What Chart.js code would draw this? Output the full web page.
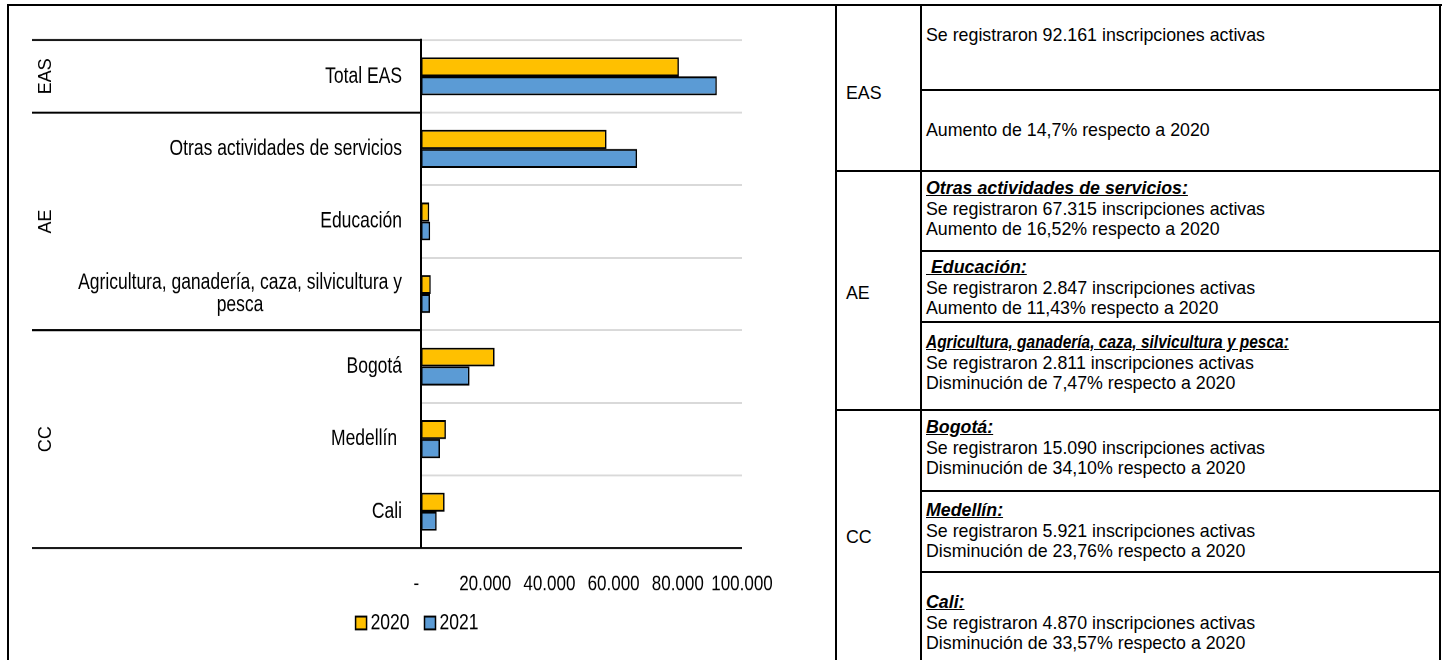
<!DOCTYPE html>
<html lang="es">
<head>
<meta charset="utf-8">
<title>Inscripciones activas 2020 - 2021</title>
<script src="https://cdn.jsdelivr.net/npm/chart.js@4.4.1/dist/chart.umd.min.js"></script>
<style>
html, body { margin: 0; padding: 0; background: #fff; }
body { width: 1444px; height: 660px; overflow: hidden; position: relative; font-family: "Liberation Sans", Arial, sans-serif; color: #000; }
.h { position: absolute; height: 2px; background: #000; z-index: 2; }
.v { position: absolute; width: 2px; background: #000; z-index: 2; top: 4px; bottom: 0; }
.t { position: absolute; left: 926px; font-size: 17.8px; line-height: 20.5px; white-space: nowrap; }
.t b { font-style: italic; text-decoration: underline; }
.t b.nar { display: inline-block; transform: scaleX(0.87); transform-origin: 0 50%; }
.g { position: absolute; left: 846px; font-size: 17.8px; line-height: 20px; }
/* the original chart picture is stretched vertically */
#stretch { position: absolute; left: 10px; top: 6px; width: 825px; height: 512px; transform: scaleY(1.28); transform-origin: 0 0; }
</style>
</head>
<body>

<div id="stretch"><canvas id="graph"></canvas></div>

<!-- table frame -->
<div class="h" style="left:7px;width:1435px;top:4px"></div>
<div class="v" style="left:7px"></div>
<div class="v" style="left:835px"></div>
<div class="v" style="left:920px"></div>
<div class="v" style="left:1439px"></div>
<div class="h" style="left:920px;width:521px;top:89px"></div>
<div class="h" style="left:835px;width:606px;top:170px"></div>
<div class="h" style="left:920px;width:521px;top:250px"></div>
<div class="h" style="left:920px;width:521px;top:321px"></div>
<div class="h" style="left:835px;width:606px;top:409px"></div>
<div class="h" style="left:920px;width:521px;top:490px"></div>
<div class="h" style="left:920px;width:521px;top:571px"></div>

<div class="g" style="top:83px">EAS</div>
<div class="g" style="top:283px">AE</div>
<div class="g" style="top:527px">CC</div>

<div class="t" style="top:25px">Se registraron 92.161 inscripciones activas</div>
<div class="t" style="top:120px">Aumento de 14,7% respecto a 2020</div>
<div class="t" style="top:178px"><b>Otras actividades de servicios:</b><br>Se registraron 67.315 inscripciones activas<br>Aumento de 16,52% respecto a 2020</div>
<div class="t" style="top:257px"><b>&nbsp;Educación:</b><br>Se registraron 2.847 inscripciones activas<br>Aumento de 11,43% respecto a 2020</div>
<div class="t" style="top:332px"><b class="nar">Agricultura, ganadería, caza, silvicultura y pesca:</b><br>Se registraron 2.811 inscripciones activas<br>Disminución de 7,47% respecto a 2020</div>
<div class="t" style="top:417px"><b>Bogotá:</b><br>Se registraron 15.090 inscripciones activas<br>Disminución de 34,10% respecto a 2020</div>
<div class="t" style="top:500px"><b>Medellín:</b><br>Se registraron 5.921 inscripciones activas<br>Disminución de 23,76% respecto a 2020</div>
<div class="t" style="top:592px"><b>Cali:</b><br>Se registraron 4.870 inscripciones activas<br>Disminución de 33,57% respecto a 2020</div>

<script>
var categories = ['Total EAS', 'Otras actividades de servicios', 'Educación',
    ['Agricultura, ganadería, caza, silvicultura y', 'pesca'], 'Bogotá', 'Medellín ', 'Cali']
var groups = ['EAS', 'AE', 'CC']
var groupSizes = [1, 3, 3]
var seriesNames = ['2020', '2021']
var values2020 = [80349, 57771, 2555, 3038, 22898, 7766, 7331]
var values2021 = [92161, 67315, 2847, 2811, 15090, 5921, 4870]
var xTicks = [0, 20000, 40000, 60000, 80000, 100000]
var xTickLabels = ['-  ', '20.000', '40.000', '60.000', '80.000', '100.000']

var S = 1.28
var font = '17.5px "Liberation Sans", Arial, sans-serif'

// category labels, group labels, black separators and legend
var groupPlugin = {
    id: 'groupLabels',
    afterDraw: function (chart) {
        var ctx = chart.ctx
        var area = chart.chartArea
        var y = chart.scales.y
        var n = categories.length

        function edge(k) {
            if (k == 0) return area.top
            if (k == n) return area.bottom
            return (y.getPixelForTick(k - 1) + y.getPixelForTick(k)) / 2
        }

        ctx.save()
        ctx.font = font
        ctx.fillStyle = '#000'
        ctx.textBaseline = 'middle'

        categories.forEach(function (lab, i) {
            var lines = Array.isArray(lab) ? lab : [lab]
            var yc = y.getPixelForTick(i)
            var right = area.left - 19
            var w = Math.max.apply(null, lines.map(function (l) { return ctx.measureText(l).width }))
            lines.forEach(function (l, k) {
                var yy = yc + (k - (lines.length - 1) / 2) * 17.2
                if (lines.length > 1) {
                    ctx.textAlign = 'center'
                    ctx.fillText(l, right - w / 2, yy)
                } else {
                    ctx.textAlign = 'right'
                    ctx.fillText(l, right, yy)
                }
            })
        })

        // separators
        ctx.strokeStyle = '#000'
        ctx.lineWidth = 2 / S
        var start = 0
        var cuts = [0]
        groupSizes.forEach(function (s) { start += s; cuts.push(start) })
        cuts.forEach(function (k) {
            var yy = edge(k)
            ctx.beginPath()
            ctx.moveTo(22, yy)
            ctx.lineTo(k == n ? area.right : area.left, yy)
            ctx.stroke()
        })

        // group labels (not stretched in the original)
        ctx.textAlign = 'center'
        ctx.font = '18px "Liberation Sans", Arial, sans-serif'
        groups.forEach(function (g, i) {
            var yc = (edge(cuts[i]) + edge(cuts[i + 1])) / 2
            ctx.save()
            ctx.translate(36, yc)
            ctx.scale(1, 1 / S)
            ctx.rotate(-Math.PI / 2)
            ctx.fillText(g, 0, 0)
            ctx.restore()
        })

        // legend
        ctx.font = font
        var ds = chart.data.datasets
        var widths = ds.map(function (d) { return ctx.measureText(d.label).width })
        var total = 0
        widths.forEach(function (w, i) { total += 11 + 4 + w + (i < widths.length - 1 ? 15 : 0) })
        var x = 407 - total / 2
        var ly = 482
        ctx.textAlign = 'left'
        ctx.lineWidth = 1.5
        ds.forEach(function (d, i) {
            ctx.fillStyle = d.backgroundColor
            ctx.fillRect(x, ly - 5, 11, 10)
            ctx.strokeRect(x, ly - 5, 11, 10)
            ctx.fillStyle = '#000'
            ctx.fillText(d.label, x + 15, ly)
            x += 15 + widths[i] + 15
        })
        ctx.restore()
    }
}

var ctx = document.getElementById('graph').getContext('2d')

var myChart = new Chart(ctx, {
    type: 'bar',
    data: {
        labels: categories,
        datasets: [{
            label: seriesNames[0],
            data: values2020,
            backgroundColor: '#FFC000',
            borderColor: '#000',
            borderWidth: 1.5,
            borderSkipped: false,
            categoryPercentage: 0.523,
            barPercentage: 1
        }, {
            label: seriesNames[1],
            data: values2021,
            backgroundColor: '#5B9BD5',
            borderColor: '#000',
            borderWidth: 1.5,
            borderSkipped: false,
            categoryPercentage: 0.523,
            barPercentage: 1
        }]
    },
    options: {
        indexAxis: 'y',
        responsive: true,
        maintainAspectRatio: false,
        animation: false,
        devicePixelRatio: 2,
        layout: {
            padding: { top: 26.6, right: 93, bottom: 48.6, left: 0 }
        },
        plugins: {
            legend: { display: false },
            tooltip: { enabled: false }
        },
        scales: {
            x: {
                min: 0,
                max: 100000,
                grid: { display: false },
                border: { display: false },
                ticks: {
                    stepSize: 20000,
                    autoSkip: false,
                    maxRotation: 0,
                    padding: 10,
                    color: '#000',
                    font: { family: '"Liberation Sans", Arial, sans-serif', size: 17 },
                    callback: function (v) { return xTickLabels[xTicks.indexOf(v)] }
                },
                afterFit: function (s) { s.height = 40 }
            },
            y: {
                grid: { color: '#d9d9d9', lineWidth: 1.5, drawTicks: false },
                border: { color: '#000', width: 2 },
                ticks: { display: false },
                afterFit: function (s) { s.width = 411 }
            }
        }
    },
    plugins: [groupPlugin]
})
</script>
</body>
</html>
